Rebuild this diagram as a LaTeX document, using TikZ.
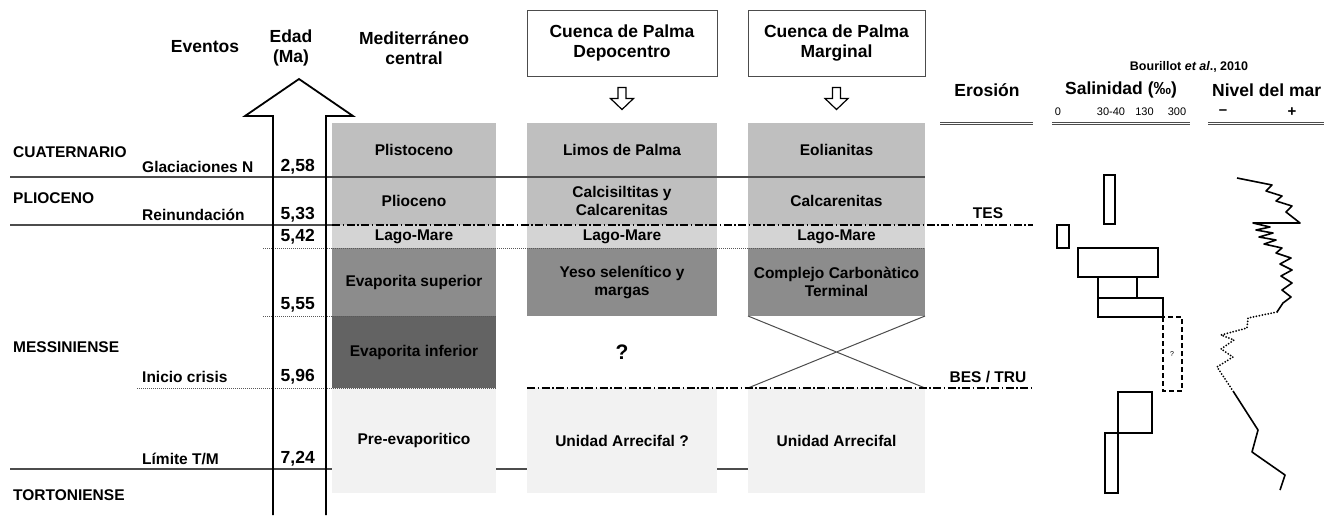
\documentclass[tikz,border=0pt]{standalone}
\usepackage{fontspec}
\setmainfont{Liberation Sans}
\definecolor{gA}{gray}{0.75}
\definecolor{gB}{gray}{0.83}
\definecolor{gC}{gray}{0.55}
\definecolor{gD}{gray}{0.39}
\definecolor{gE}{gray}{0.95}
\definecolor{lin}{gray}{0.3}
\begin{document}
\begin{tikzpicture}[x=1pt,y=-1pt,
    head/.style={font=\fontsize{17.5}{20.5}\selectfont\bfseries, align=center},
    lbl/.style={font=\fontsize{15.5}{18}\selectfont\bfseries, anchor=west, inner sep=0pt},
    age/.style={font=\fontsize{17.5}{20}\selectfont\bfseries, anchor=east, inner sep=0pt},
    cell/.style={font=\fontsize{15.5}{18}\selectfont\bfseries, align=center, inner sep=0pt, outer sep=0pt},
    small/.style={font=\fontsize{11}{13}\selectfont},
    limit/.style={draw=lin, line width=1.2pt},
    dashdot/.style={line width=1.3pt, dash pattern=on 8pt off 2.5pt on 1.5pt off 2.5pt},
    dots/.style={draw=black!65, line width=0.9pt, dash pattern=on 1pt off 1pt},
    doubleline/.style={draw=black!70, double, double distance=1.5pt, line width=0.8pt}]
    \useasboundingbox (0,0) rectangle (1324,515);
    \draw[limit] (10,469) -- (748,469);
    \foreach \nm/\xa/\xb/\ya/\yb/\col/\txt in {
        m1/332/496/123/177/gA/Plistoceno, m2/332/496/177/225/gA/Plioceno,
        m3/332/496/225/248/gB/Lago-Mare, m4/332/496/248/316/gC/Evaporita superior,
        m5/332/496/316/388/gD/Evaporita inferior, m6/332/496/388/493/gE/Pre-evaporitico,
        d1/527/717/123/177/gA/Limos de Palma, d2/527/717/177/225/gA/Calcisiltitas y\\Calcarenitas,
        d3/527/717/225/248/gB/Lago-Mare, d4/527/717/248/316/gC/Yeso selenítico y\\margas,
        d5/527/717/316/388/white/, d6/527/717/388/493/gE/Unidad Arrecifal ?,
        c1/748/925/123/177/gA/Eolianitas, c2/748/925/177/225/gA/Calcarenitas,
        c3/748/925/225/248/gB/Lago-Mare, c4/748/925/248/316/gC/Complejo Carbonàtico\\Terminal,
        c5/748/925/316/388/white/, c6/748/925/388/493/gE/Unidad Arrecifal}{
        \pgfmathsetmacro{\w}{\xb-\xa}
        \pgfmathsetmacro{\h}{\yb-\ya}
        \node[cell, fill=\col, minimum width=\w pt, minimum height=\h pt] (\nm) at ({(\xa+\xb)/2},{(\ya+\yb)/2}) {\txt};
    }
    \node[font=\fontsize{21}{24}\selectfont\bfseries] (q) at (d5) {?};
    \draw[draw=lin, line width=1pt] (c5.north west) -- (c5.south east) (c5.north east) -- (c5.south west);
    \draw[limit] (10,177) -- (925,177);
    \draw[limit] (10,225) -- (332,225);
    \draw[dashdot] (332,225) -- (1033,225);
    \draw[dots] (263,248) -- (925,248);
    \draw[dots] (263,316) -- (496,316);
    \draw[dots] (137,388) -- (496,388);
    \draw[dashdot] (527,388) -- (1033,388);
    \draw[line width=1.8pt] (273,515) -- (273,116) -- (245,116) -- (299,79) -- (353,116) -- (326,116) -- (326,515);
    \node[head] (ev) at (205,47) {Eventos};
    \node[head] (edad) at (291,48) {Edad\\(Ma)};
    \node[head] (med) at (414,48) {Mediterráneo\\central};
    \node[head, draw=lin, line width=1pt, minimum width=190pt, minimum height=66pt] (dep) at (622,43) {Cuenca de Palma\\Depocentro};
    \node[head, draw=lin, line width=1pt, minimum width=177pt, minimum height=66pt] (mar) at (836.5,43) {Cuenca de Palma\\Marginal};
    \foreach \b in {dep,mar}
        \draw[line width=1.2pt] (\b.south) ++(-4,11) -- ++(0,11) -- ++(-7.5,0) -- ++(11.5,11) -- ++(11.5,-11) -- ++(-7.5,0) -- ++(0,-11) -- cycle;
    \foreach \nm/\x/\y/\t in {cua/13/152/CUATERNARIO, gla/142/167/Glaciaciones N, pli/13/198/PLIOCENO,
        rei/142/215/Reinundación, mes/13/347/MESSINIENSE, ini/142/377/Inicio crisis,
        lim/142/459/{Límite T/M}, tor/13/495/TORTONIENSE}
        \node[lbl] (\nm) at (\x,\y) {\t};
    \foreach \a/\y in {{2,58}/167, {5,33}/215, {5,42}/237, {5,55}/305, {5,96}/377, {7,24}/459}
        \node[age] (a\y) at (315,\y) {\a};
    \node[head] (ero) at (987,90) {Erosión};
    \node[head] (sal) at (1121,90) {Salinidad (‰)};
    \node[head, anchor=west, inner sep=0pt] (niv) at (1212,90) {Nivel del mar};
    \node[font=\fontsize{12.5}{14}\selectfont\bfseries] (bou) at (1189,67) {Bourillot \textit{et al}., 2010};
    \foreach \x/\t in {1058/0, 1111/30-40, 1144.5/130, 1177/300}
        \node[small] (s\x) at (\x,112) {\t};
    \node[font=\fontsize{15}{17}\selectfont\bfseries] (neg) at (1223,112) {–};
    \node[font=\fontsize{15}{17}\selectfont\bfseries] (pos) at (1292,112) {+};
    \draw[doubleline] (940,123.5) -- (1033,123.5);
    \draw[doubleline] (1052,123.5) -- (1190,123.5);
    \draw[doubleline] (1208,123.5) -- (1324,123.5);
    \node[lbl, anchor=center] (tes) at (988,213) {TES};
    \node[lbl, anchor=center] (bes) at (988,377) {BES / TRU};
    \foreach \xa/\ya/\xb/\yb in {1104/175/1115/224, 1057/225/1069/248, 1078/248/1158/277, 1098/277/1137/298,
        1098/298/1163/317, 1118/392/1152/433, 1105/433/1118/493}
        \draw[line width=1.1pt] (\xa,\ya) rectangle (\xb,\yb);
    \draw[line width=1.1pt, dash pattern=on 5pt off 3pt] (1163,317) rectangle (1182,391);
    \node[font=\fontsize{7}{8}\selectfont] (qs) at (1172,354) {?};
    \draw[line width=1.6pt, line join=round] (1237,178) -- (1272,185) -- (1266,191) -- (1282,196) -- (1276,201)
        -- (1292,206) -- (1286,212) -- (1300,223) -- (1253,223) -- (1270,227) -- (1256,230) -- (1273,233)
        -- (1259,237) -- (1276,240) -- (1264,244) -- (1282,248) -- (1276,253) -- (1291,258) -- (1280,264)
        -- (1292,270) -- (1281,276) -- (1292,283) -- (1282,290) -- (1291,297) -- (1283,303) -- (1277,312);
    \draw[line width=2pt, line cap=round, dash pattern=on 0pt off 3pt] (1277,312) -- (1248,318) -- (1247,328) -- (1221,335)
        -- (1234,340) -- (1221,349) -- (1233,357) -- (1217,367) -- (1233,391);
    \draw[line width=1.6pt, line join=round] (1233,391) -- (1258,430) -- (1252,452) -- (1285,475) -- (1280,490);
\end{tikzpicture}
\end{document}
